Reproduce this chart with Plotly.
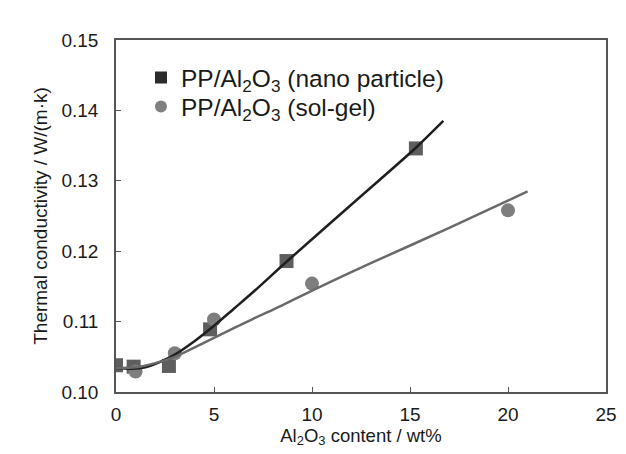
import plotly.graph_objects as go

# Measured data (Al2O3 content wt%, thermal conductivity W/(m·K))
nano_x = [0, 0.9, 2.7, 4.8, 8.7, 15.3]
nano_y = [0.1038, 0.1036, 0.1037, 0.1089, 0.1186, 0.1346]
sol_x = [1.0, 3.0, 5.0, 10.0, 20.0]
sol_y = [0.1029, 0.1055, 0.1103, 0.1154, 0.1258]

# Trend curves
nano_fit_x = [0, 0.8, 1.5, 2.2, 3.0, 4.0, 5.0, 6.0, 7.0, 8.7, 12.0, 15.3, 16.7]
nano_fit_y = [0.1034, 0.1033, 0.1035, 0.1042, 0.1053, 0.1072, 0.1094, 0.1118, 0.1142, 0.1185, 0.1266, 0.1347, 0.1385]
sol_fit_x = [0, 1.0, 2.0, 3.0, 4.2, 5.0, 7.0, 8.4, 10.0, 13.0, 17.0, 21.0]
sol_fit_y = [0.1034, 0.1035, 0.1041, 0.1050, 0.1066, 0.1077, 0.1104, 0.1122, 0.1144, 0.1183, 0.1233, 0.1285]

x_ticks = [0, 5, 10, 15, 20, 25]
y_ticks = [0.10, 0.11, 0.12, 0.13, 0.14, 0.15]
y_tick_text = ["0.10", "0.11", "0.12", "0.13", "0.14", "0.15"]

name_nano = "PP/Al<sub>2</sub>O<sub>3</sub> (nano particle)"
name_sol = "PP/Al<sub>2</sub>O<sub>3</sub> (sol-gel)"

FONT = "Liberation Sans, Arial, sans-serif"

fig = go.Figure()
fig.add_trace(go.Scatter(x=nano_x, y=nano_y, mode="markers", showlegend=False,
                         marker=dict(symbol="square", size=14, color="#5e5e5e")))
fig.add_trace(go.Scatter(x=sol_x, y=sol_y, mode="markers", showlegend=False,
                         marker=dict(symbol="circle", size=14, color="#7e7e7e")))
fig.add_trace(go.Scatter(x=nano_fit_x, y=nano_fit_y, mode="lines", showlegend=False,
                         line=dict(color="#1f1f1f", width=2.5, shape="spline", smoothing=0.8)))
fig.add_trace(go.Scatter(x=sol_fit_x, y=sol_fit_y, mode="lines", showlegend=False,
                         line=dict(color="#6a6a6a", width=2.5, shape="spline", smoothing=0.8)))
# legend entries
fig.add_trace(go.Scatter(x=[None], y=[None], mode="markers", name=name_nano, legend="legend",
                         marker=dict(symbol="square", size=12, color="#2b2b2b")))
fig.add_trace(go.Scatter(x=[None], y=[None], mode="markers", name=name_sol, legend="legend2",
                         marker=dict(symbol="circle", size=12, color="#808080")))

axis_common = dict(
    showline=True, linecolor="#555555", linewidth=1.5, mirror=True,
    ticks="inside", ticklen=5, tickcolor="#555555", tickwidth=1.2,
    showgrid=False, zeroline=False, automargin=False,
    tickfont=dict(family=FONT, size=19, color="#1a1a1a"),
)

legend_common = dict(xanchor="left", yanchor="top",
                     font=dict(family=FONT, size=24.5, color="#1a1a1a"),
                     bgcolor="rgba(0,0,0,0)", itemwidth=30)

fig.update_layout(
    width=626, height=454,
    margin=dict(l=108, r=28, t=32, b=70),
    paper_bgcolor="white", plot_bgcolor="white",
    font=dict(family=FONT, color="#1a1a1a"),
    xaxis=dict(range=[0, 25], tickvals=x_ticks, ticklabelstandoff=4,
               title=dict(text="Al<sub>2</sub>O<sub>3</sub> content / wt%",
                          font=dict(family=FONT, size=18.5, color="#1a1a1a"), standoff=5),
               **axis_common),
    yaxis=dict(range=[0.10, 0.15], tickvals=y_ticks, ticktext=y_tick_text, ticklabelstandoff=12,
               title=dict(text="Thermal conductivity / W/(m·k)",
                          font=dict(family=FONT, size=19, color="#1a1a1a"), standoff=9),
               **axis_common),
    legend=dict(x=0.051, y=0.957, **legend_common),
    legend2=dict(x=0.051, y=0.875, **legend_common),
    showlegend=True,
)

fig.write_html("out.html")
